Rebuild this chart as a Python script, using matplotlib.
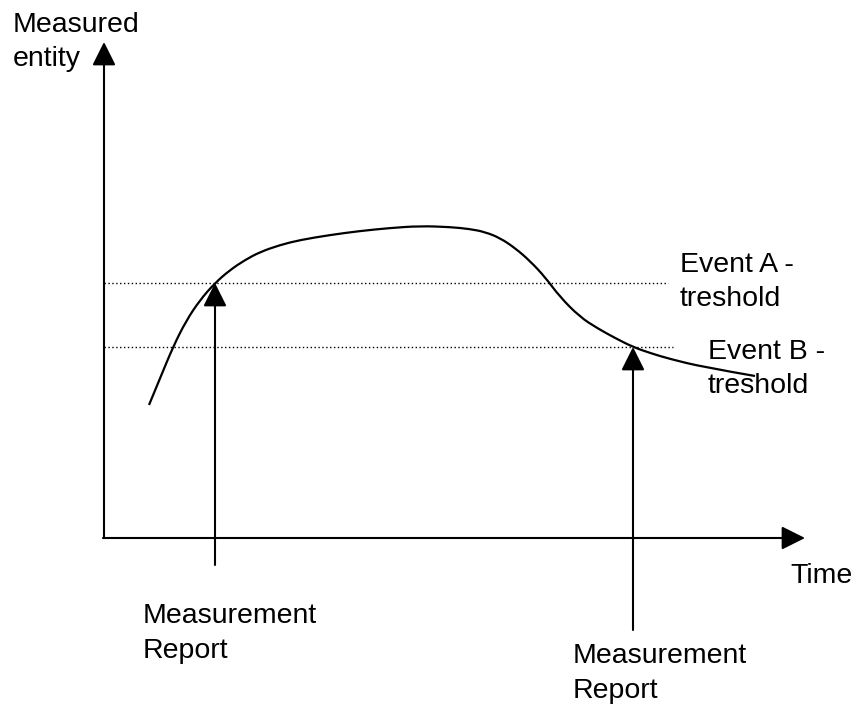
import matplotlib
matplotlib.use("Agg")
import matplotlib.pyplot as plt
from matplotlib.path import Path
from matplotlib.patches import PathPatch

plt.rcParams['font.family'] = ['Liberation Sans', 'DejaVu Sans']

# measured entity curve (image pixels: x right, y down)
curve_x = [149, 161, 173, 186, 200, 215, 230, 245, 260, 280, 300, 330, 360, 390, 420,
           450, 470, 485, 500, 515, 530, 545, 560, 580, 597, 615, 633, 650, 670, 703, 755]
curve_y = [405, 376, 347, 321, 300, 283, 270, 260, 252, 245, 240, 235, 231, 228, 226,
           227, 229, 232, 238, 248, 261, 277, 297, 317, 328, 338, 347, 353, 359, 367, 376]

# thresholds
thr_y = [283, 347]
thr_end = [668, 673]
thr_labels = [["Event A -", "treshold"], ["Event B -", "treshold"]]
thr_label_x = [680, 708]
thr_label_base = [272, 359]

# measurement report arrows: x, bottom, tip
report_x = [215, 633]
report_bottom = [565, 630]
report_tip = [283, 347]
report_label_x = [143, 573]
report_label_base = [623, 663]

origin = (104, 538)
y_tip = 42
x_tip = 805

fig = plt.figure(figsize=(8.58, 7.10), dpi=100)
ax = fig.add_axes([0, 0, 1, 1])
ax.set_xlim(0, 858)
ax.set_ylim(710, 0)
ax.axis('off')

arrow = dict(arrowstyle='-|>,head_length=1.44,head_width=0.72', lw=1.5,
             color='black', shrinkA=0, shrinkB=0, mutation_scale=10)

# axes
ax.annotate('', xy=(origin[0], y_tip), xytext=origin, arrowprops=arrow)
ax.annotate('', xy=(x_tip, origin[1]), xytext=(origin[0] - 1, origin[1]), arrowprops=arrow)

# threshold lines
for y, xe in zip(thr_y, thr_end):
    ax.plot([origin[0], xe], [y, y], color='black', lw=1.0, linestyle=(0, (1, 1.8)))

# smooth curve: read points used as quadratic bezier controls
pts = list(zip(curve_x, curve_y))
verts = [pts[0]]
codes = [Path.MOVETO]
for i in range(1, len(pts) - 2):
    mid = ((pts[i][0] + pts[i + 1][0]) / 2, (pts[i][1] + pts[i + 1][1]) / 2)
    verts += [pts[i], mid]
    codes += [Path.CURVE3, Path.CURVE3]
verts += [pts[-2], pts[-1]]
codes += [Path.CURVE3, Path.CURVE3]
ax.add_patch(PathPatch(Path(verts, codes), facecolor='none', edgecolor='black', lw=1.6))

for x, b, t in zip(report_x, report_bottom, report_tip):
    ax.annotate('', xy=(x, t), xytext=(x, b), arrowprops=arrow)

fs = 20.5
for lines, x, b in zip(thr_labels, thr_label_x, thr_label_base):
    ax.text(x, b, lines[0], fontsize=fs, va='baseline', ha='left')
    ax.text(x, b + 34, lines[1], fontsize=fs, va='baseline', ha='left')

for x, b in zip(report_label_x, report_label_base):
    ax.text(x, b, "Measurement", fontsize=fs, va='baseline', ha='left')
    ax.text(x, b + 35, "Report", fontsize=fs, va='baseline', ha='left')

ax.text(13, 32, "Measured", fontsize=fs, va='baseline', ha='left')
ax.text(13, 66, "entity", fontsize=fs, va='baseline', ha='left')
ax.text(790, 583, "Time", fontsize=fs, va='baseline', ha='left')

fig.savefig("out.png", dpi=100)
